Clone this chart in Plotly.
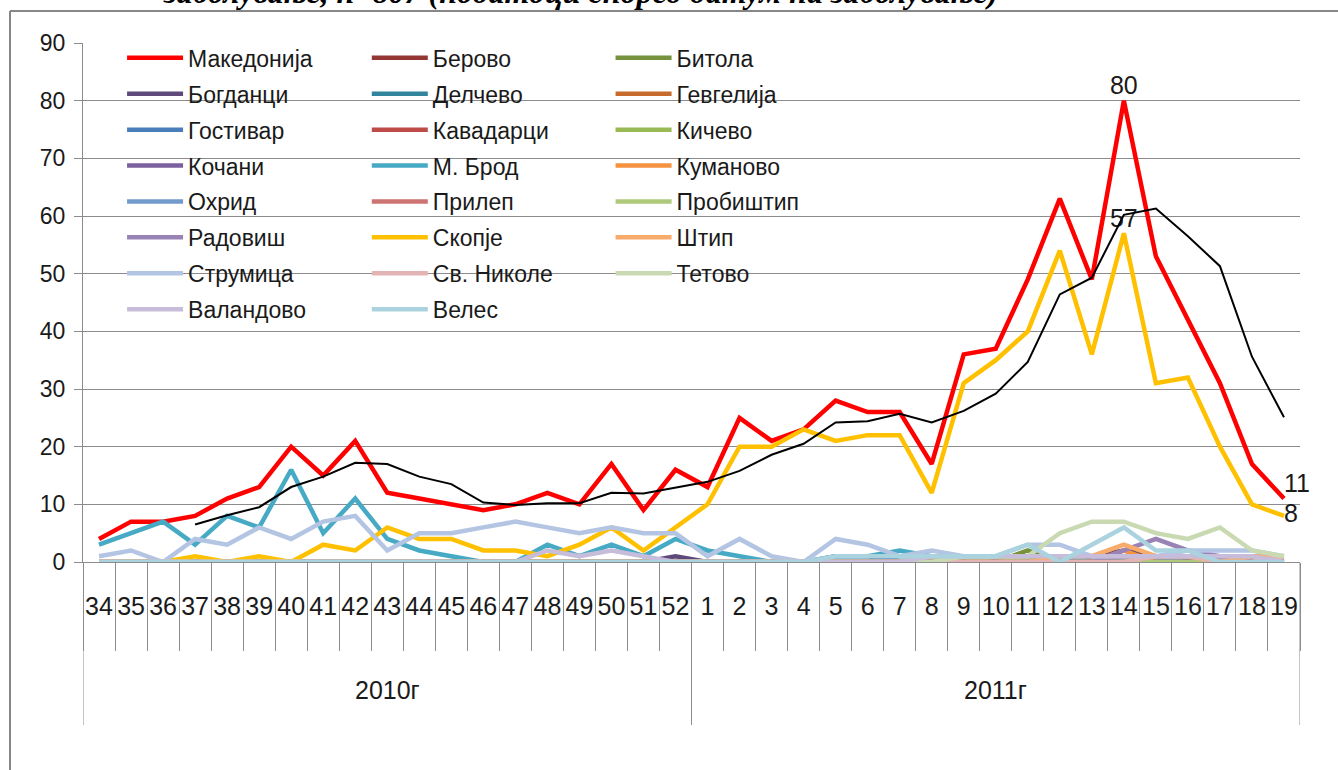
import plotly.graph_objects as go

years = ["2010г"] * 19 + ["2011г"] * 19
weeks = [str(w) for w in range(34, 53)] + [str(w) for w in range(1, 20)]

makedonija = [4, 7, 7, 8, 11, 13, 20, 15, 21, 12, 11, 10, 9, 10, 12, 10, 17, 9, 16,
              13, 25, 21, 23, 28, 26, 26, 17, 36, 37, 49, 63, 49, 80, 53, 42, 31, 17, 11]
berovo = [0] * 19 + [0] * 17 + [1, 1]
bitola = [0] * 19 + [0, 0, 0, 0, 0, 0, 0, 0, 0, 0, 2, 0, 1, 1, 0, 0, 0, 0, 0]
bogdanci = [0] * 18 + [1] + [0, 0, 0, 0, 0, 0, 0, 0, 0, 0, 0, 0, 1, 2, 1, 0, 0, 0, 0]
delcevo = [0] * 19 + [0, 0, 0, 0, 1, 1, 0, 0, 0, 0, 0, 1, 0, 0, 0, 0, 0, 0, 0]
gevgelija = [0] * 19 + [0] * 13 + [1, 0, 0, 0, 0, 0]
gostivar = [0] * 19 + [0, 0, 0, 0, 0, 0, 1, 1, 0, 0, 0, 0, 0, 0, 0, 0, 0, 0, 0]
kavadarci = [0] * 19 + [0] * 16 + [1, 1, 0]
kicevo = [0] * 19 + [0, 0, 0, 0, 0, 0, 0, 0, 0, 0, 1, 0, 0, 0, 1, 0, 0, 0, 0]
kocani = [0] * 19 + [0] * 13 + [1, 1, 0, 0, 0, 0]
mbrod = [3, 5, 7, 3, 8, 6, 16, 5, 11, 4, 2, 1, 0, 0, 3, 1, 3, 1, 4,
         2, 1, 0, 0, 1, 1, 2, 1, 1, 1, 0, 1, 0, 0, 0, 0, 0, 0, 0]
kumanovo = [0] * 19 + [0] * 13 + [2, 0, 1, 0, 0, 0]
ohrid = [0] * 19 + [0] * 15 + [1, 1, 0, 0]
prilep = [0] * 19 + [0] * 16 + [1, 1, 1]
probistip = [0] * 19 + [0, 0, 0, 0, 0, 0, 0, 1, 0, 1, 0, 0, 0, 0, 0, 0, 0, 0, 0]
radovis = [0] * 19 + [0] * 13 + [2, 4, 2, 1, 0, 0]
skopje = [0, 0, 0, 1, 0, 1, 0, 3, 2, 6, 4, 4, 2, 2, 1, 3, 6, 2, 6,
          10, 20, 20, 23, 21, 22, 22, 12, 31, 35, 40, 54, 36, 57, 31, 32, 20, 10, 8]
stip = [0] * 19 + [0] * 11 + [1, 1, 3, 1, 1, 0, 1, 1]
strumica = [1, 2, 0, 4, 3, 6, 4, 7, 8, 2, 5, 5, 6, 7, 6, 5, 6, 5, 5,
            1, 4, 1, 0, 4, 3, 1, 2, 1, 1, 3, 3, 1, 1, 1, 2, 2, 2, 1]
svnikole = [0] * 19 + [0] * 14 + [1, 1, 0, 0, 1]
tetovo = [0] * 19 + [0, 0, 0, 0, 0, 0, 0, 0, 1, 1, 1, 5, 7, 7, 5, 4, 6, 2, 1]
valandovo = [0] * 14 + [2, 1, 2, 1, 0] + [0, 0, 0, 0, 0, 0, 0, 1, 1, 1, 1, 1, 1, 1, 1, 1, 1, 1, 0]
veles = [0] * 19 + [0, 0, 0, 0, 1, 1, 1, 1, 1, 1, 3, 0, 3, 6, 2, 2, 0, 0, 0]
moving_avg = [None, None, None, 6.5, 8.1, 9.5, 13, 14.8, 17.2, 17, 14.8, 13.5, 10.3, 9.9, 10.2, 10.2, 12, 11.9, 12.9,
              13.9, 15.8, 18.6, 20.5, 24.2, 24.4, 25.7, 24.2, 26.2, 29.2, 34.7, 46.4, 49.3, 60.2, 61.3, 56.5, 51.3, 35.6, 25.1]

series = [
    ("Македонија", makedonija, "#FF0000", "legend"),
    ("Берово", berovo, "#943634", "legend2"),
    ("Битола", bitola, "#76923C", "legend3"),
    ("Богданци", bogdanci, "#5F497A", "legend"),
    ("Делчево", delcevo, "#31859C", "legend2"),
    ("Гевгелија", gevgelija, "#C66B2D", "legend3"),
    ("Гостивар", gostivar, "#4A7EBB", "legend"),
    ("Кавадарци", kavadarci, "#BE4B48", "legend2"),
    ("Кичево", kicevo, "#98B954", "legend3"),
    ("Кочани", kocani, "#7D60A0", "legend"),
    ("М. Брод", mbrod, "#46AAC5", "legend2"),
    ("Куманово", kumanovo, "#F69240", "legend3"),
    ("Охрид", ohrid, "#729ACA", "legend"),
    ("Прилеп", prilep, "#CD7371", "legend2"),
    ("Пробиштип", probistip, "#AFC97A", "legend3"),
    ("Радовиш", radovis, "#9983B5", "legend"),
    ("Скопје", skopje, "#FFC000", "legend2"),
    ("Штип", stip, "#F9AB6B", "legend3"),
    ("Струмица", strumica, "#B3C5E3", "legend"),
    ("Св. Николе", svnikole, "#E3B4B3", "legend2"),
    ("Тетово", tetovo, "#C9DAB2", "legend3"),
    ("Валандово", valandovo, "#C7BDDA", "legend"),
    ("Велес", veles, "#ABD3DF", "legend2"),
]

FONT = "Liberation Sans, Arial, sans-serif"
GRID = "#8c8c8c"

fig = go.Figure()
for name, vals, color, leg in series:
    text = None
    textpos = None
    if name == "Македонија":
        text = [""] * len(vals)
        textpos = ["top center"] * len(vals)
        i_max = vals.index(max(vals))
        text[i_max] = str(vals[i_max])
        text[-1] = str(vals[-1])
        textpos[-1] = "top right"
    if name == "Скопје":
        text = [""] * len(vals)
        textpos = ["top center"] * len(vals)
        i_max = vals.index(max(vals))
        text[i_max] = str(vals[i_max])
        text[-1] = str(vals[-1])
        textpos[-1] = "middle right"
    fig.add_trace(go.Scatter(
        x=weeks, y=vals, name=name,
        mode="lines+text" if text else "lines",
        text=text, textposition=textpos, cliponaxis=False,
        textfont=dict(family=FONT, size=25, color="#1a1a1a"),
        line=dict(color=color, width=4.5),
        legend=leg, legendgroup=name,
    ))

fig.add_trace(go.Scatter(
    x=weeks, y=moving_avg, mode="lines",
    line=dict(color="#000000", width=2), showlegend=False, hoverinfo="skip",
))

leg_common = dict(
    bgcolor="rgba(0,0,0,0)", font=dict(family=FONT, size=23, color="#1a1a1a"),
    itemwidth=56, tracegroupgap=3, yanchor="top", y=1.0127, xanchor="left",
    traceorder="grouped",
)
fig.update_layout(
    width=1338, height=770,
    margin=dict(l=83, r=38, t=43, b=208, autoexpand=False),
    plot_bgcolor="white", paper_bgcolor="white",
    font=dict(family=FONT, size=22, color="#1a1a1a"),
    legend=dict(x=0.0321, **leg_common),
    legend2=dict(x=0.2332, **leg_common),
    legend3=dict(x=0.4335, **leg_common),
)
fig.update_yaxes(
    range=[0, 90], dtick=10, showgrid=True, gridcolor=GRID, gridwidth=1,
    showline=True, linecolor=GRID, linewidth=1,
    ticks="outside", ticklen=8, tickcolor=GRID, ticklabelstandoff=4,
    tickfont=dict(family=FONT, size=23, color="#1a1a1a"), zeroline=False,
    automargin=False,
)
fig.update_xaxes(
    type="category", range=[-0.5, len(weeks) - 0.5],
    showline=True, linecolor=GRID, linewidth=1,
    ticks="outside", tickson="boundaries", ticklen=88, tickcolor=GRID,
    tickfont=dict(family=FONT, size=25, color="#1a1a1a"), showgrid=False,
    tickangle=0, ticklabelstandoff=22, automargin=False,
)

# year group labels and dividers, positioned from the category data
group_names = []
for y in years:
    if y not in group_names:
        group_names.append(y)
for g in group_names:
    idx = [i for i, y in enumerate(years) if y == g]
    fig.add_annotation(text=g, xref="x", yref="paper", x=(idx[0] + idx[-1]) / 2,
                       y=(562 - 690) / 519, yanchor="middle", showarrow=False,
                       font=dict(family=FONT, size=25, color="#1a1a1a"))
boundaries = [-0.5] + [i - 0.5 for i in range(1, len(years)) if years[i] != years[i - 1]] + [len(years) - 0.5]
for b in boundaries:
    fig.add_shape(type="line", xref="x", yref="paper", x0=b, x1=b,
                  y0=0, y1=(562 - 725) / 519, line=dict(color=GRID, width=1))

# outer chart border (left and top edges) and cut-off title
bx = (10 - 83) / 1217
by = (562 - 11) / 519
fig.add_shape(type="line", xref="paper", yref="paper", x0=bx, x1=bx,
              y0=-0.5, y1=by, line=dict(color="#878787", width=2))
fig.add_shape(type="line", xref="paper", yref="paper", x0=bx, x1=1.05,
              y0=by, y1=by, line=dict(color="#878787", width=2))
fig.add_annotation(text="<b><i>заболување, n=807 (податоци според датум на заболување)</i></b>",
                   xref="paper", yref="paper", x=(161 - 83) / 1217, y=(562 + 8) / 519,
                   xanchor="left", yanchor="middle", showarrow=False,
                   font=dict(family="Liberation Serif, Times New Roman, serif", size=32, color="#000"))

fig.write_html("out.html", config={"displayModeBar": False},
               post_script="document.body.style.margin='0';")
